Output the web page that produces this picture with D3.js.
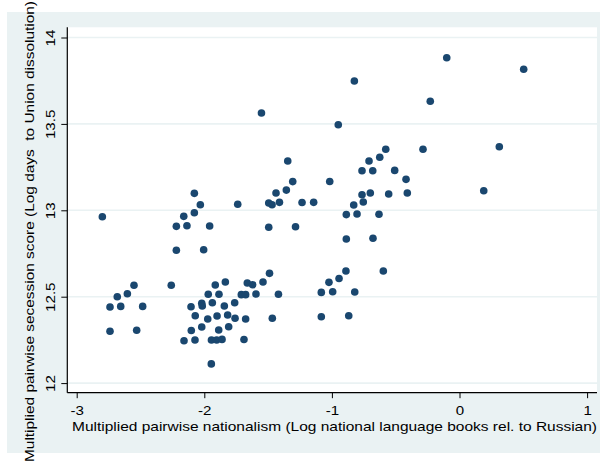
<!DOCTYPE html>
<html>
<head>
<meta charset="utf-8">
<script src="https://cdn.jsdelivr.net/npm/d3@7"></script>
<style>
  html, body { margin: 0; padding: 0; background: #ffffff; }
  svg { display: block; }
  text { font-family: "Liberation Sans", Arial, Helvetica, sans-serif; fill: #000; }
</style>
</head>
<body>
<svg id="chart" width="600" height="464"></svg>
<script>
// ---- data ----
const nationalism = [
  -2.799, -2.739, -2.655, -2.483, -2.739, -2.530, -2.682, -2.603, -2.551, -2.259,
  -2.219, -2.005, -2.219, -2.136, -1.958, -2.161, -2.078, -2.078, -2.031, -1.738,
  -1.914, -1.835, -1.663, -1.621, -1.540, -1.489, -1.969, -1.885, -1.710, -1.676,
  -1.595, -1.419, -2.104, -2.020, -2.016, -1.937, -1.843, -1.762, -2.071, -1.973,
  -1.900, -1.817, -1.759, -1.676, -1.467, -2.102, -2.020, -1.887, -1.809, -2.159,
  -2.073, -1.944, -1.903, -1.861, -1.689, -1.945, -1.552, -1.307, -1.357, -1.438,
  -1.495, -1.469, -1.411, -1.234, -1.143, -1.495, -1.285, -1.346, -1.017, -0.950,
  -0.824, -0.100,  0.503, -0.229, -0.578, -0.286,  0.312, -0.709, -0.625, -0.764,
  -0.680, -0.508, -0.419, -0.764, -0.699, -0.754, -0.555, -0.409,  0.190, -0.829,
  -0.887, -0.803, -0.631, -0.887, -0.678, -0.890, -0.597, -0.944, -1.023, -1.083,
  -0.994, -0.821, -1.083, -0.868
];
const secession = [
  12.963, 12.440, 12.444, 12.444, 12.300, 12.306, 12.500, 12.517, 12.566, 12.566,
  12.769, 12.772, 12.907, 12.911, 12.909, 12.965, 12.986, 13.098, 13.032, 13.035,
  12.568, 12.585, 12.579, 12.569, 12.585, 12.635, 12.514, 12.514, 12.512, 12.512,
  12.516, 12.514, 12.442, 12.462, 12.446, 12.465, 12.446, 12.465, 12.390, 12.371,
  12.388, 12.394, 12.375, 12.371, 12.375, 12.304, 12.325, 12.307, 12.326, 12.245,
  12.249, 12.249, 12.249, 12.253, 12.252, 12.111, 13.563, 13.166, 13.117, 13.100,
  13.042, 13.032, 13.046, 13.045, 13.046, 12.902, 12.905, 13.285, 13.167, 13.495,
  13.748, 13.883, 13.816, 13.631, 13.353, 13.353, 13.368, 13.285, 13.307, 13.229,
  13.229, 13.231, 13.179, 13.090, 13.100, 13.048, 13.094, 13.100, 13.113, 13.031,
  12.975, 12.979, 12.977, 12.834, 12.838, 12.649, 12.649, 12.605, 12.583, 12.525,
  12.529, 12.527, 12.384, 12.390
];
const xTicks = [-3, -2, -1, 0, 1];
const xTickLabels = ["-3", "-2", "-1", "0", "1"];
const yTicks = [12, 12.5, 13, 13.5, 14];
const yTickLabels = ["12", "12.5", "13", "13.5", "14"];
const xTitle = "Multiplied pairwise nationalism (Log national language books rel. to Russian)";
const yTitle = "Multiplied pairwise secession score (Log days  to Union dissolution)";

// ---- layout ----
const svg = d3.select("#chart");
const bgColor = "#eaf2f3";
const markColor = "#1a476f";
const region = { left: 67.3, right: 597, top: 27.3, bottom: 392.7 };

const x = d3.scaleLinear().domain([-3, 1]).range([76.7, 587.1]);
const y = d3.scaleLinear().domain([12, 14]).range([383.1, 37.5]);

// outer graph region
svg.append("rect").attr("x", 7).attr("y", 12).attr("width", 593).attr("height", 441)
  .attr("fill", bgColor);
// plot region
svg.append("rect").attr("x", region.left).attr("y", region.top)
  .attr("width", region.right - region.left).attr("height", region.bottom - region.top)
  .attr("fill", "#ffffff");

// gridlines
svg.append("g").selectAll("line").data(yTicks).join("line")
  .attr("x1", region.left).attr("x2", region.right)
  .attr("y1", d => y(d)).attr("y2", d => y(d))
  .attr("stroke", bgColor).attr("stroke-width", 1.6);

// points
svg.append("g").selectAll("circle").data(nationalism.map((v, i) => [v, secession[i]]))
  .join("circle")
  .attr("cx", d => x(d[0])).attr("cy", d => y(d[1])).attr("r", 3.8)
  .attr("fill", markColor);

// x axis
const xAxis = d3.axisBottom(x).tickValues(xTicks).tickSize(5.5).tickSizeOuter(0)
  .tickFormat((d, i) => xTickLabels[i]);
const gx = svg.append("g").attr("transform", `translate(0,${region.bottom})`).call(xAxis);
gx.select(".domain").remove();
gx.selectAll(".tick line").attr("stroke", "#000").attr("stroke-width", 1);
gx.selectAll(".tick text").attr("y", 0).attr("dy", 0)
  .attr("font-size", 12.6)
  .attr("transform", "translate(0,22.3) scale(1.2,1)")
  .style("font-family", '"Liberation Sans", Arial, sans-serif');
svg.append("line").attr("x1", region.left).attr("x2", region.right)
  .attr("y1", region.bottom).attr("y2", region.bottom)
  .attr("stroke", "#000").attr("stroke-width", 1.2);

// y axis
const yAxis = d3.axisLeft(y).tickValues(yTicks).tickSize(6).tickSizeOuter(0)
  .tickFormat((d, i) => yTickLabels[i]);
const gy = svg.append("g").attr("transform", `translate(${region.left},0)`).call(yAxis);
gy.select(".domain").remove();
gy.selectAll(".tick line").attr("stroke", "#000").attr("stroke-width", 1);
gy.selectAll(".tick text").attr("x", 0).attr("dy", 0)
  .attr("text-anchor", "middle")
  .attr("font-size", 12.6)
  .attr("transform", "translate(-12.8,0) rotate(-90) scale(1.2,1)")
  .style("font-family", '"Liberation Sans", Arial, sans-serif');
svg.append("line").attr("x1", region.left).attr("x2", region.left)
  .attr("y1", region.top).attr("y2", region.bottom)
  .attr("stroke", "#000").attr("stroke-width", 1.2);

// axis titles
svg.append("text").attr("x", 334.5).attr("y", 430.5)
  .attr("text-anchor", "middle").attr("font-size", 12.8)
  .attr("textLength", 525).attr("lengthAdjust", "spacingAndGlyphs")
  .text(xTitle);
svg.append("text").attr("transform", "translate(33.8,231.5) rotate(-90)")
  .attr("text-anchor", "middle").attr("font-size", 12.8)
  .attr("textLength", 461).attr("lengthAdjust", "spacingAndGlyphs")
  .style("white-space", "pre")
  .text(yTitle);
</script>
</body>
</html>
